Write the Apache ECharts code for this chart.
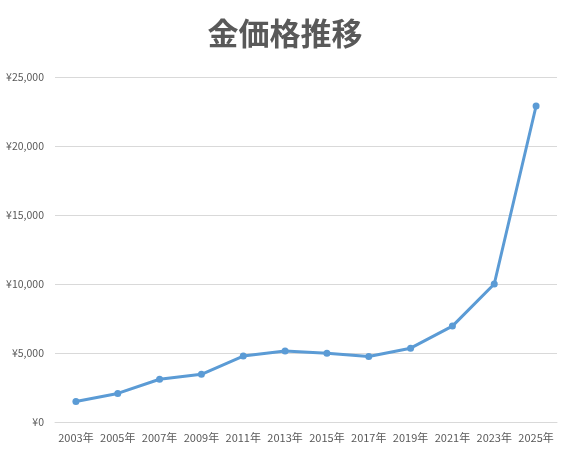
<!DOCTYPE html>
<html>
<head>
<meta charset="utf-8">
<script src="https://cdn.jsdelivr.net/npm/echarts@6/dist/echarts.min.js"></script>
<style>
html,body{margin:0;padding:0;background:#fff;}
#chart{width:570px;height:460px;}
</style>
</head>
<body>
<div id="chart"></div>
<script>
const titleText = "金価格推移";
const categories = ["2003年","2005年","2007年","2009年","2011年","2013年","2015年","2017年","2019年","2021年","2023年","2025年"];
const goldPrices = [1490, 2070, 3100, 3460, 4780, 5150, 4990, 4750, 5350, 6950, 10000, 22900];
const yTicks = [0, 5000, 10000, 15000, 20000, 25000];

const chart = echarts.init(document.getElementById('chart'));
const font = '"Noto Sans CJK JP", "Noto Sans", sans-serif';
chart.setOption({
  animation: false,
  backgroundColor: '#ffffff',
  title: {
    text: titleText,
    left: 'center',
    top: 13,
    textStyle: { color: '#595959', fontSize: 31, fontWeight: 'bold', fontFamily: font }
  },
  grid: { left: 55, right: 13, top: 77, bottom: 38, containLabel: false },
  xAxis: {
    type: 'category',
    data: categories,
    boundaryGap: true,
    axisLine: { show: true, lineStyle: { color: '#D9D9D9', width: 1 } },
    axisTick: { show: false },
    axisLabel: { color: '#595959', fontSize: 11, fontFamily: font, margin: 10, interval: 0 }
  },
  yAxis: {
    type: 'value',
    min: yTicks[0],
    max: yTicks[yTicks.length - 1],
    interval: yTicks[1] - yTicks[0],
    axisLine: { show: false },
    axisTick: { show: false },
    splitLine: { lineStyle: { color: '#D9D9D9', width: 1 } },
    axisLabel: {
      color: '#595959', fontSize: 10.5, fontFamily: font, margin: 11,
      formatter: v => '¥' + v.toLocaleString('en-US')
    }
  },
  series: [{
    type: 'line',
    data: goldPrices,
    symbol: 'circle',
    symbolSize: 7,
    lineStyle: { color: '#5B9BD5', width: 3 },
    itemStyle: { color: '#5B9BD5' }
  }]
});
</script>
</body>
</html>
